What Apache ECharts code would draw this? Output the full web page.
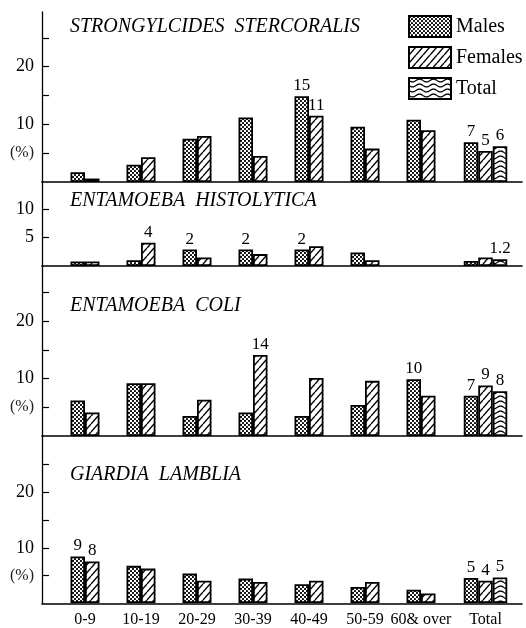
<!DOCTYPE html>
<html>
<head>
<meta charset="utf-8">
<script src="https://cdn.jsdelivr.net/npm/echarts@6/dist/echarts.min.js"></script>
<style>
  html, body { margin: 0; padding: 0; background: #fff; }
  #chart { width: 526px; height: 628px; }
</style>
</head>
<body>
<div id="chart"></div>
<script>
  // age groups; the last column is the overall figure
  const categories = ['0-9', '10-19', '20-29', '30-39', '40-49', '50-59', '60& over', 'Total'];

  // Strongyloides stercoralis (%)
  const strongMales = [1.7, 3.0, 7.5, 11.2, 14.9, 9.6, 10.8, 6.9];
  const strongFemales = [0.6, 4.3, 8.0, 4.5, 11.5, 5.8, 9.0, 5.4];
  const strongTotal = [6.2];
  const strongMaleTags = ['', '', '', '', '15', '', '', '7'];
  const strongFemaleTags = ['', '', '', '', '11', '', '', '5'];
  const strongTotalTags = ['6'];

  // Entamoeba histolytica (%)
  const histoMales = [0.8, 1.0, 2.9, 2.9, 2.9, 2.4, null, 0.9];
  const histoFemales = [0.8, 4.1, 1.5, 2.1, 3.5, 1.0, null, 1.5];
  const histoTotal = [1.2];
  const histoMaleTags = ['', '', '2', '2', '2', '', '', ''];
  const histoFemaleTags = ['', '4', '', '', '', '', '', ''];
  const histoTotalTags = ['1.2'];

  // Entamoeba coli (%)
  const coliMales = [6.2, 9.2, 3.5, 4.1, 3.5, 5.4, 9.9, 7.0];
  const coliFemales = [4.1, 9.2, 6.3, 14.1, 10.1, 9.6, 7.0, 8.8];
  const coliTotal = [7.8];
  const coliMaleTags = ['', '', '', '', '', '', '10', '7'];
  const coliFemaleTags = ['', '', '', '14', '', '', '', '9'];
  const coliTotalTags = ['8'];

  // Giardia lamblia (%)
  const giardiaMales = [8.4, 6.7, 5.3, 4.4, 3.4, 2.9, 2.4, 4.5];
  const giardiaFemales = [7.5, 6.2, 4.0, 3.8, 4.0, 3.8, 1.7, 4.0];
  const giardiaTotal = [4.6];
  const giardiaMaleTags = ['9', '', '', '', '', '', '', '5'];
  const giardiaFemaleTags = ['8', '', '', '', '', '', '', '4'];
  const giardiaTotalTags = ['5'];

  // y axis ticks / labels
  const tallTicks = [5, 10, 15, 20, 25];
  const tallLabels = [5, 10, 20];
  const shortTicks = [5, 10];
  const shortLabels = [5, 10];

  const font = 'Liberation Serif';
  const ink = '#000';

  function makePattern(w, h, draw) {
    const c = document.createElement('canvas');
    c.width = w;
    c.height = h;
    const ctx = c.getContext('2d');
    ctx.fillStyle = '#fff';
    ctx.fillRect(0, 0, w, h);
    ctx.fillStyle = ink;
    ctx.strokeStyle = ink;
    draw(ctx, w, h);
    return { image: c, repeat: 'repeat' };
  }

  const dots = makePattern(4, 4, ctx => {
    [[1, 1], [3, 3]].forEach(([x, y]) => {
      ctx.beginPath();
      ctx.arc(x, y, 1.1, 0, Math.PI * 2);
      ctx.fill();
    });
  });
  const hatch = makePattern(7, 8, (ctx, w, h) => {
    ctx.lineWidth = 1.4;
    [-w, 0, w].forEach(dx => {
      ctx.beginPath();
      ctx.moveTo(dx, h);
      ctx.lineTo(dx + w, 0);
      ctx.stroke();
    });
  });
  const waves = makePattern(14, 5, (ctx, w, h) => {
    ctx.lineWidth = 1.3;
    ctx.beginPath();
    for (let x = 0; x <= w; x += 0.5) {
      const y = h / 2 + 1.4 * Math.sin(x / w * Math.PI * 2);
      if (x === 0) ctx.moveTo(x, y); else ctx.lineTo(x, y);
    }
    ctx.stroke();
  });

  const panels = [
    { name: 'STRONGYLCIDES  STERCORALIS', top: 12, height: 170, max: 29.5, titleTop: 17,
      ticks: tallTicks, labels: tallLabels, pct: true,
      males: strongMales, females: strongFemales, total: strongTotal,
      maleTags: strongMaleTags, femaleTags: strongFemaleTags, totalTags: strongTotalTags },
    { name: 'ENTAMOEBA  HISTOLYTICA', top: 182, height: 84, max: 14.8, titleTop: 191,
      ticks: shortTicks, labels: shortLabels, pct: false,
      males: histoMales, females: histoFemales, total: histoTotal,
      maleTags: histoMaleTags, femaleTags: histoFemaleTags, totalTags: histoTotalTags },
    { name: 'ENTAMOEBA  COLI', top: 266, height: 170, max: 29.6, titleTop: 296,
      ticks: tallTicks, labels: tallLabels, pct: true,
      males: coliMales, females: coliFemales, total: coliTotal,
      maleTags: coliMaleTags, femaleTags: coliFemaleTags, totalTags: coliTotalTags },
    { name: 'GIARDIA  LAMBLIA', top: 436, height: 167.5, max: 30.1, titleTop: 465,
      ticks: tallTicks, labels: tallLabels, pct: true,
      males: giardiaMales, females: giardiaFemales, total: giardiaTotal,
      maleTags: giardiaMaleTags, femaleTags: giardiaFemaleTags, totalTags: giardiaTotalTags }
  ];

  function barSeries(name, idx, values, tags, fill) {
    return {
      name: name,
      type: 'bar',
      xAxisIndex: idx,
      yAxisIndex: idx,
      data: values,
      barWidth: 14.5,
      barGap: '0%',
      itemStyle: { color: fill, borderColor: ink, borderWidth: 1.8 },
      label: {
        show: true,
        position: 'top',
        distance: 2,
        formatter: p => tags[p.dataIndex] || '',
        fontFamily: font,
        fontSize: 17,
        color: ink
      },
      emphasis: { disabled: true }
    };
  }

  const grid = [], xAxis = [], yAxis = [], series = [], title = [];

  panels.forEach((p, k) => {
    const g = grid.length;
    const last = k === panels.length - 1;
    grid.push({ left: 42, right: 4, top: p.top, height: p.height });
    grid.push({ left: 57, width: 392, top: p.top, height: p.height });
    grid.push({ left: 457.5, width: 56, top: p.top, height: p.height });

    // frame: baseline + left axis
    xAxis.push({
      gridIndex: g, type: 'value', min: 0, max: 1,
      axisLine: { show: true, onZero: false, lineStyle: { color: ink, width: 1.6 } },
      axisTick: { show: false }, axisLabel: { show: false }, splitLine: { show: false }
    });
    yAxis.push({
      gridIndex: g, type: 'value', min: 0, max: p.max,
      axisLine: { show: true, onZero: false, lineStyle: { color: ink, width: 1.3 } },
      axisTick: { show: true, inside: true, length: 7, customValues: p.ticks, lineStyle: { color: ink, width: 1.2 } },
      axisLabel: {
        customValues: p.labels,
        margin: 8,
        fontFamily: font,
        fontSize: 18,
        color: ink,
        formatter: v => (v === 5 && p.pct) ? '{pct|(%)}' : String(v),
        rich: { pct: { fontFamily: font, fontSize: 16, color: '#222' } }
      },
      splitLine: { show: false }
    });

    const catLabel = { show: last, interval: 0, margin: 9, fontFamily: font, fontSize: 16, color: ink };
    xAxis.push({
      gridIndex: g + 1, type: 'category', data: categories.slice(0, 7),
      axisLine: { show: false }, axisTick: { show: false }, axisLabel: catLabel
    });
    yAxis.push({ gridIndex: g + 1, type: 'value', min: 0, max: p.max, show: false });
    xAxis.push({
      gridIndex: g + 2, type: 'category', data: categories.slice(7),
      axisLine: { show: false }, axisTick: { show: false }, axisLabel: catLabel
    });
    yAxis.push({ gridIndex: g + 2, type: 'value', min: 0, max: p.max, show: false });

    series.push(barSeries('Males', g + 1, p.males.slice(0, 7), p.maleTags.slice(0, 7), dots));
    series.push(barSeries('Females', g + 1, p.females.slice(0, 7), p.femaleTags.slice(0, 7), hatch));
    series.push(barSeries('Males', g + 2, p.males.slice(7), p.maleTags.slice(7), dots));
    series.push(barSeries('Females', g + 2, p.females.slice(7), p.femaleTags.slice(7), hatch));
    series.push(barSeries('Total', g + 2, p.total, p.totalTags, waves));

    title.push({
      text: p.name,
      left: 70,
      top: p.titleTop,
      padding: 0,
      textStyle: { fontFamily: font, fontStyle: 'italic', fontWeight: 'normal', fontSize: 20, color: ink }
    });
  });

  const chart = echarts.init(document.getElementById('chart'));
  chart.setOption({
    animation: false,
    backgroundColor: '#fff',
    title: title,
    legend: {
      data: ['Males', 'Females', 'Total'],
      orient: 'vertical',
      left: 408,
      top: 15,
      padding: 0,
      icon: 'rect',
      itemWidth: 42,
      itemHeight: 21,
      itemGap: 8,
      selectedMode: false,
      itemStyle: { borderColor: ink, borderWidth: 2 },
      textStyle: { fontFamily: font, fontSize: 20, color: ink, padding: [0, 0, 0, 0] }
    },
    grid: grid,
    xAxis: xAxis,
    yAxis: yAxis,
    series: series
  });
</script>
</body>
</html>
